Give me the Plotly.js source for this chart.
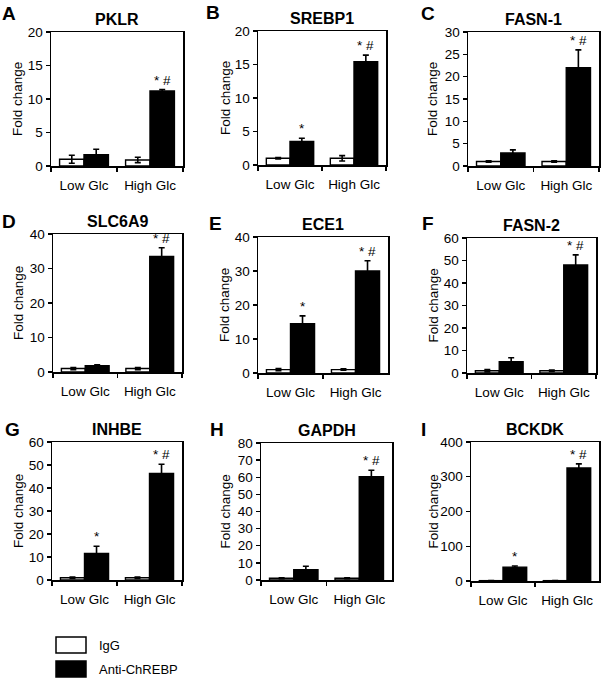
<!DOCTYPE html>
<html>
<head>
<meta charset="utf-8">
<script src="https://cdn.plot.ly/plotly-3.0.1.min.js"></script>
<style>html,body{margin:0;padding:0;background:#fff;}#chart{width:605px;height:683px;}</style>
</head>
<body>
<div id="chart"></div>
<script>
// ---- data ----
const categories = ["Low Glc", "High Glc"];
const seriesNames = ["IgG", "Anti-ChREBP"];
const panelLetters = ["A", "B", "C", "D", "E", "F", "G", "H", "I"];
const genes = ["PKLR", "SREBP1", "FASN-1", "SLC6A9", "ECE1", "FASN-2", "INHBE", "GAPDH", "BCKDK"];
const iggValues = [[1.0, 0.9], [1.0, 1.0], [1.0, 1.0], [1.0, 1.0], [1.0, 1.0], [1.0, 1.0], [1.0, 1.0], [1.0, 1.0], [1.0, 1.0]];
const iggErrors = [[0.6, 0.4], [0.1, 0.4], [0.15, 0.15], [0.3, 0.3], [0.3, 0.2], [0.5, 0.3], [0.3, 0.3], [0.3, 0.3], [0.5, 0.5]];
const antiValues = [[1.7, 11.2], [3.5, 15.4], [2.9, 22.0], [1.8, 33.5], [14.5, 30.0], [5.0, 48.0], [11.5, 46.3], [6.0, 60.3], [40, 325]];
const antiErrors = [[0.8, 0.2], [0.5, 1.0], [0.7, 4.0], [0.3, 2.5], [2.3, 3.0], [1.8, 4.5], [3.2, 4.0], [2.0, 3.8], [3, 12]];
const sigLabels = [["", "* #"], ["*", "* #"], ["", "* #"], ["", "* #"], ["*", "* #"], ["", "* #"], ["*", "* #"], ["", "* #"], ["*", "* #"]];
const yMax = [20, 20, 30, 40, 40, 60, 60, 80, 400];
const yStep = [5, 5, 5, 10, 10, 10, 10, 10, 100];

// ---- layout geometry (pixels) ----
const W = 605, H = 683;
const boxes = [
  [51, 183, 32, 166], [258, 386, 31, 165], [468, 599, 32, 166],
  [53, 182, 234, 372], [258, 388, 237, 373], [467, 596, 238, 373],
  [52, 182, 442, 580], [261, 392, 443, 580], [471, 599, 442, 581]
];
const letterPos = [[9, 13], [213, 12], [428, 14], [9, 222], [215, 223], [428, 223], [12, 429], [217, 429], [423, 429]];
const ytitleX = [18, 225, 433, 18, 225, 433, 18, 225, 433];

const font = "Liberation Sans, Arial, Helvetica, sans-serif";
const traces = [];
const layout = {
  width: W, height: H,
  margin: {l: 0, r: 0, t: 0, b: 0},
  paper_bgcolor: "#fff", plot_bgcolor: "#fff",
  showlegend: false,
  barmode: "group", bargap: 0.26, bargroupgap: 0,
  font: {family: font, size: 13, color: "#000"},
  annotations: [], shapes: []
};

const px = x => x / W;
const py = y => 1 - y / H;

for (let i = 0; i < 9; i++) {
  const n = i === 0 ? "" : String(i + 1);
  const xa = "x" + n, ya = "y" + n;
  const [x0, x1, y0, y1] = boxes[i];
  traces.push({
    type: "bar", x: categories, y: iggValues[i], name: seriesNames[0],
    xaxis: xa, yaxis: ya,
    marker: {color: "#fff", line: {color: "#000", width: 1.4}},
    error_y: {type: "data", array: iggErrors[i], visible: true, color: "#000", thickness: 1.6, width: 3}
  });
  traces.push({
    type: "bar", x: categories, y: antiValues[i], name: seriesNames[1],
    xaxis: xa, yaxis: ya,
    marker: {color: "#000", line: {color: "#000", width: 1.4}},
    error_y: {type: "data", array: antiErrors[i], visible: true, color: "#000", thickness: 1.6, width: 3}
  });
  layout["xaxis" + n] = {
    domain: [px(x0), px(x1)], anchor: ya, type: "category",
    tickson: "boundaries", ticks: "outside", ticklen: 4, tickwidth: 1.3, tickcolor: "#000",
    ticklabelstandoff: 6,
    showline: true, linecolor: "#000", linewidth: 1.5, mirror: true,
    showgrid: false, zeroline: false, fixedrange: true,
    tickfont: {family: font, size: 13.5, color: "#000"}
  };
  layout["yaxis" + n] = {
    domain: [py(y1), py(y0)], anchor: xa,
    range: [0, yMax[i]], dtick: yStep[i], tick0: 0,
    ticks: "outside", ticklen: 4, tickwidth: 1.3, tickcolor: "#000",
    showline: true, linecolor: "#000", linewidth: 1.5, mirror: true,
    showgrid: false, zeroline: false, fixedrange: true,
    tickfont: {family: font, size: 13.5, color: "#000"}
  };
  // gene title
  layout.annotations.push({
    xref: "paper", yref: "paper", x: px((x0 + x1) / 2), y: py(y0 - 2),
    xanchor: "center", yanchor: "bottom", showarrow: false,
    text: "<b>" + genes[i] + "</b>", font: {family: font, size: 16, color: "#000"}
  });
  // panel letter
  layout.annotations.push({
    xref: "paper", yref: "paper", x: px(letterPos[i][0]), y: py(letterPos[i][1]),
    xanchor: "center", yanchor: "middle", showarrow: false,
    text: "<b>" + panelLetters[i] + "</b>", font: {family: font, size: 19, color: "#000"}
  });
  // y title
  layout.annotations.push({
    xref: "paper", yref: "paper", x: px(ytitleX[i]), y: py((y0 + y1) / 2),
    xanchor: "center", yanchor: "middle", showarrow: false, textangle: -90,
    text: "Fold change", font: {family: font, size: 13.5, color: "#000"}
  });
  // significance marks
  for (let c = 0; c < 2; c++) {
    if (!sigLabels[i][c]) continue;
    layout.annotations.push({
      xref: xa, yref: ya, x: c + 0.185, y: antiValues[i][c] + antiErrors[i][c],
      xanchor: "center", yanchor: "bottom", yshift: 0, showarrow: false,
      text: sigLabels[i][c], font: {family: font, size: 13.5, color: "#000"}
    });
  }
}

// legend (boxes + labels)
const legendColors = ["#fff", "#000"];
const legendTop = [637, 661];
for (let k = 0; k < 2; k++) {
  layout.shapes.push({
    type: "rect", xref: "paper", yref: "paper",
    x0: px(56), x1: px(86), y0: py(legendTop[k] + 16), y1: py(legendTop[k]),
    fillcolor: legendColors[k], line: {color: "#000", width: 1.5}
  });
  layout.annotations.push({
    xref: "paper", yref: "paper", x: px(97), y: py(legendTop[k] + 8),
    xanchor: "left", yanchor: "middle", showarrow: false,
    text: seriesNames[k], font: {family: font, size: 13, color: "#000"}
  });
}

Plotly.newPlot("chart", traces, layout, {staticPlot: true, displayModeBar: false});
</script>
</body>
</html>
